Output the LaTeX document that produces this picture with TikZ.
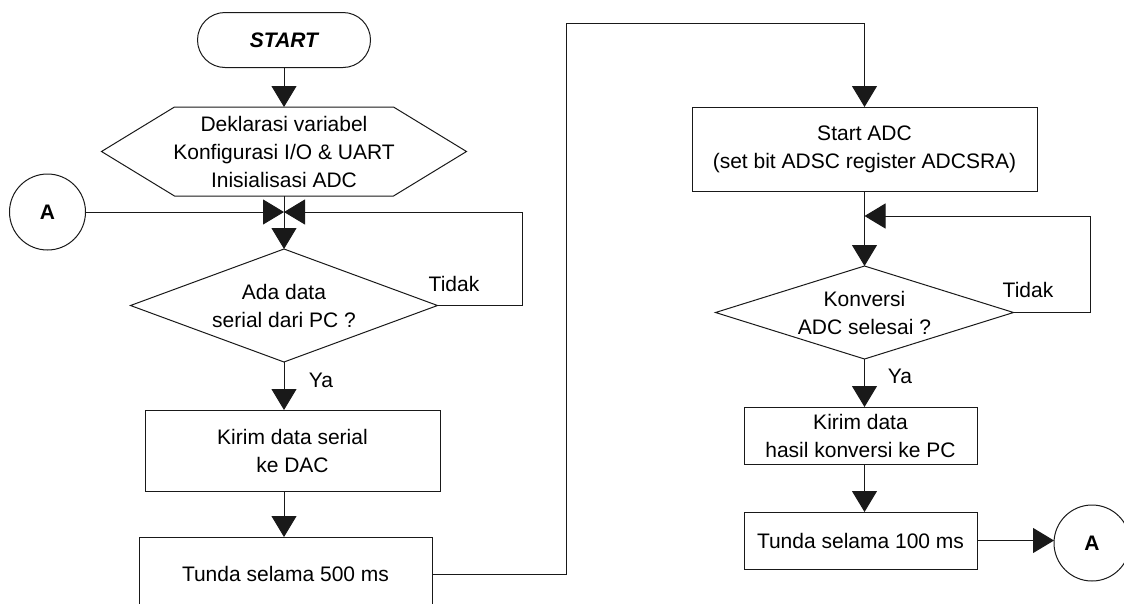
\documentclass[tikz,border=0pt]{standalone}
\usepackage{fontspec}
\setmainfont{Liberation Sans}
\usetikzlibrary{arrows.meta,shapes.geometric}
\begin{document}
\begin{tikzpicture}[x=1pt,y=-1pt,
  every node/.style={font=\fontsize{21}{28}\selectfont, inner sep=2pt, outer sep=0pt},
  line/.style={draw=black!90, line width=1pt},
  arr/.style={line, -{Triangle[length=21pt,width=25pt]}},
  proc/.style={line, rectangle, align=center},
  decision/.style={line, diamond, aspect=2.7, inner sep=0pt, align=center},
  conn/.style={line, circle, minimum size=76pt, inner sep=0pt, font=\fontsize{21}{28}\selectfont\bfseries},
  lbl/.style={inner sep=0pt}]
\useasboundingbox (0,0) rectangle (1124,603);
\clip (0,0) rectangle (1124,603);

% left column
\node[proc, rounded corners=27.5pt, minimum width=173pt, minimum height=55pt,
      font=\fontsize{21}{28}\selectfont\bfseries\itshape] (start) at (284,40) {START};
\node[align=center, minimum width=365pt, minimum height=89pt, inner sep=0pt] (hex) at (284,151.5)
  {Deklarasi variabel\\Konfigurasi I/O \& UART\\Inisialisasi ADC};
\draw[line] ([xshift=73pt]hex.north west) -- ([xshift=-73pt]hex.north east) -- (hex.east)
  -- ([xshift=-73pt]hex.south east) -- ([xshift=73pt]hex.south west) -- (hex.west) -- cycle;
\node[conn] (a1) at (47.5,212) {A};
\node[decision, minimum width=307pt, minimum height=113pt] (d1) at (284,305.5)
  {Ada data\\serial dari PC ?};
\node[proc, minimum width=295pt, minimum height=81pt] (b1) at (292.5,450.5)
  {Kirim data serial\\ke DAC};
\node[proc, minimum width=293pt, minimum height=74pt] (b2) at (285.5,574)
  {Tunda selama 500 ms};
\node[lbl] (t1) at (454,284) {Tidak};
\node[lbl] (y1) at (321,380) {Ya};

% right column
\node[proc, minimum width=345pt, minimum height=84pt] (b3) at (864.5,149)
  {Start ADC\\(set bit ADSC register ADCSRA)};
\node[decision, minimum width=298pt, minimum height=93pt] (d2) at (864.5,312.5)
  {Konversi\\ADC selesai ?};
\node[proc, minimum width=233pt, minimum height=57pt] (b4) at (860.5,435.5)
  {Kirim data\\hasil konversi ke PC};
\node[proc, minimum width=233pt, minimum height=57pt] (b5) at (860.5,540.5)
  {Tunda selama 100 ms};
\node[conn] (a2) at (1092,543) {A};
\node[lbl] (t2) at (1028,290) {Tidak};
\node[lbl] (y2) at (900,376) {Ya};

% helper coordinates
\coordinate (j1) at (hex.south |- a1);
\coordinate (lx1) at (522,0);
\coordinate (c1) at (566,23);
\coordinate (ly2) at (0,216);
\coordinate (j2) at (b3.south |- ly2);
\coordinate (lx2) at (1090,0);

% connectors left
\draw[arr] (start) -- (hex.north);
\draw[arr] (hex.south) -- (d1.north);
\draw[arr] (a1) -- (j1);
\draw[arr] (d1.east) -- (d1.east -| lx1) |- (j1);
\draw[arr] (d1.south) -- (d1.south |- b1.north);
\draw[arr] (d1.south |- b1.south) -- (d1.south |- b2.north);
\draw[arr] (b2.east) -| (c1) -| (b3.north);

% connectors right
\draw[arr] (b3.south) -- (d2.north);
\draw[arr] (d2.east) -- (d2.east -| lx2) |- (j2);
\draw[arr] (d2.south) -- (d2.south |- b4.north);
\draw[arr] (b4.south -| d2.south) -- (b5.north -| d2.south);
\draw[arr] (b5.east) -- (b5.east -| a2.west);
\end{tikzpicture}
\end{document}
